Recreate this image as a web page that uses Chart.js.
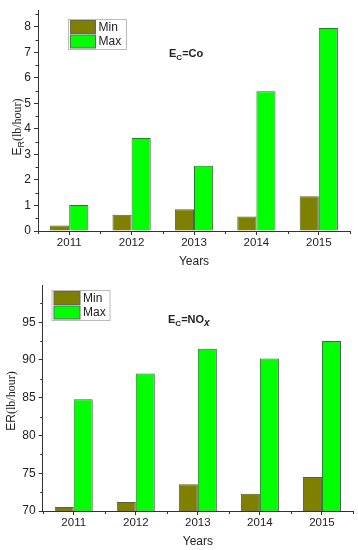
<!DOCTYPE html>
<html>
<head>
<meta charset="utf-8">
<script src="https://cdn.jsdelivr.net/npm/chart.js@4.4.0/dist/chart.umd.min.js"></script>
<style>
  html,body{margin:0;padding:0;background:#fff;}
  #wrap{position:relative;width:358px;height:550px;overflow:hidden;font-family:"Liberation Sans",Arial,sans-serif;color:#222;}
  canvas{position:absolute;left:0;}
  .ttl{position:absolute;font-weight:bold;font-size:11px;white-space:nowrap;line-height:1;}
  .ttl sub{font-size:8px;vertical-align:-3px;}
  .ytl{position:absolute;white-space:nowrap;transform:translate(-50%,-50%) rotate(-90deg);font-size:12px;line-height:1;}
  .ytl .s{font-family:"Liberation Sans",Arial,sans-serif;}
  .ytl .r{font-family:"Liberation Serif","Times New Roman",serif;}
  .ytl sub{font-size:9px;vertical-align:-3px;}
</style>
</head>
<body>
<div id="wrap">
  <canvas id="c1" width="358" height="275" style="top:0"></canvas>
  <canvas id="c2" width="358" height="275" style="top:275px"></canvas>
  <div class="ttl" style="left:169px;top:48px;">E<sub>C</sub>=Co</div>
  <div class="ttl" style="left:168px;top:314px;">E<sub>C</sub>=NO<sub style="font-size:10px"><i>x</i></sub></div>
  <div class="ytl" style="left:18px;top:127px;"><span class="s">E<sub>R</sub></span><span class="r">(lb/hour)</span></div>
  <div class="ytl" style="left:11px;top:401px;"><span class="s">ER</span><span class="r">(lb/hour)</span></div>
</div>
<script>
const years = ['2011', '2012', '2013', '2014', '2015'];
const seriesLabels = ['Min', 'Max'];
const coMin = [0.22, 0.64, 0.85, 0.57, 1.36];
const coMax = [1.02, 3.64, 2.56, 5.47, 7.95];
const noxMin = [70.53, 71.2, 73.55, 72.3, 74.5];
const noxMax = [84.8, 88.2, 91.5, 90.2, 92.5];

const MIN_COLOR = '#808000';
const MAX_COLOR = '#00ff00';
const AXIS = '#333';
const FONT = '"Liberation Sans", Arial, sans-serif';

const decor = {
  id: 'decor',
  afterDraw(chart, args, o) {
    const ctx = chart.ctx, xs = chart.scales.x, ys = chart.scales.y;
    ctx.save();
    ctx.strokeStyle = AXIS; ctx.lineWidth = 1;
    const t = ys.ticks.map(k => k.value);
    const step = t.length > 1 ? t[1] - t[0] : 1;
    for (let i = 0; i < t.length; i++) {
      const v = t[i] + step / 2;
      if (v > ys.max) continue;
      const py = Math.round(ys.getPixelForValue(v)) + 0.5;
      ctx.beginPath(); ctx.moveTo(ys.right, py); ctx.lineTo(ys.right - 2.5, py); ctx.stroke();
    }
    for (let i = 0; i <= xs.ticks.length; i++) {
      const px = Math.round(xs.getPixelForValue(i - 0.5)) + 0.5;
      ctx.beginPath(); ctx.moveTo(px, xs.top); ctx.lineTo(px, xs.top + 3); ctx.stroke();
    }
    const L = o.legend;
    ctx.strokeStyle = '#bbb';
    ctx.strokeRect(L.x + 0.5, L.y + 0.5, L.w, L.h);
    chart.data.datasets.forEach((ds, i) => {
      const sy = L.y + 1.5 + i * L.row;
      ctx.fillStyle = ds.backgroundColor;
      ctx.fillRect(L.x + 2.5, sy, L.sw, L.sh);
      ctx.strokeStyle = '#666';
      ctx.strokeRect(L.x + 2.5, sy, L.sw, L.sh);
      ctx.fillStyle = '#222';
      ctx.font = '12px ' + FONT;
      ctx.textBaseline = 'middle';
      ctx.fillText(ds.label, L.x + L.sw + 5.5, sy + L.sh / 2 + 0.5);
    });
    ctx.restore();
  }
};

function makeChart(id, minData, maxData, yCfg, pad, yWidth, xHeight, titlePad, legend) {
  return new Chart(document.getElementById(id), {
    type: 'bar',
    data: {
      labels: years,
      datasets: [
        { label: seriesLabels[0], data: minData, backgroundColor: MIN_COLOR, borderColor: '#5a5a5a', borderWidth: 1 },
        { label: seriesLabels[1], data: maxData, backgroundColor: MAX_COLOR, borderColor: '#5a5a5a', borderWidth: 1 }
      ]
    },
    options: {
      responsive: false,
      animation: false,
      devicePixelRatio: 1,
      layout: { padding: pad },
      categoryPercentage: 0.613,
      barPercentage: 1.0,
      plugins: { legend: { display: false }, tooltip: { enabled: false }, decor: { legend } },
      scales: {
        x: {
          offset: true,
          grid: { display: true, offset: false, drawOnChartArea: false, tickLength: 4, color: AXIS },
          border: { display: true, color: AXIS, width: 1 },
          ticks: { color: '#222', font: { family: FONT, size: 11.5 }, padding: 1, maxRotation: 0 },
          title: { display: true, text: 'Years', color: '#222', font: { family: FONT, size: 12 }, padding: titlePad },
          afterFit: s => { s.height = xHeight; }
        },
        y: Object.assign({
          grid: { display: true, drawOnChartArea: false, tickLength: 4, color: AXIS },
          border: { display: true, color: AXIS, width: 1 },
          afterFit: s => { s.width = yWidth; }
        }, yCfg)
      }
    },
    plugins: [decor]
  });
}

makeChart('c1', coMin, coMax,
  { min: 0, max: 8.65, ticks: { stepSize: 1, includeBounds: false, color: '#222', font: { family: FONT, size: 12 }, padding: 3 } },
  { top: 3, right: 8, left: 0, bottom: 0 }, 38, 44, { top: 2, bottom: 6 },
  { x: 68, y: 19, w: 58, h: 30, row: 14.5, sw: 25, sh: 13 });

makeChart('c2', noxMin, noxMax,
  { min: 70, max: 99.9, ticks: { stepSize: 5, includeBounds: false, color: '#222', font: { family: FONT, size: 12 }, padding: 3 } },
  { top: 8, right: 5, left: 0, bottom: 0 }, 42.7, 39, { top: 1, bottom: 1 },
  { x: 51.5, y: 15, w: 58, h: 30, row: 14.5, sw: 26, sh: 13 });
</script>
</body>
</html>
